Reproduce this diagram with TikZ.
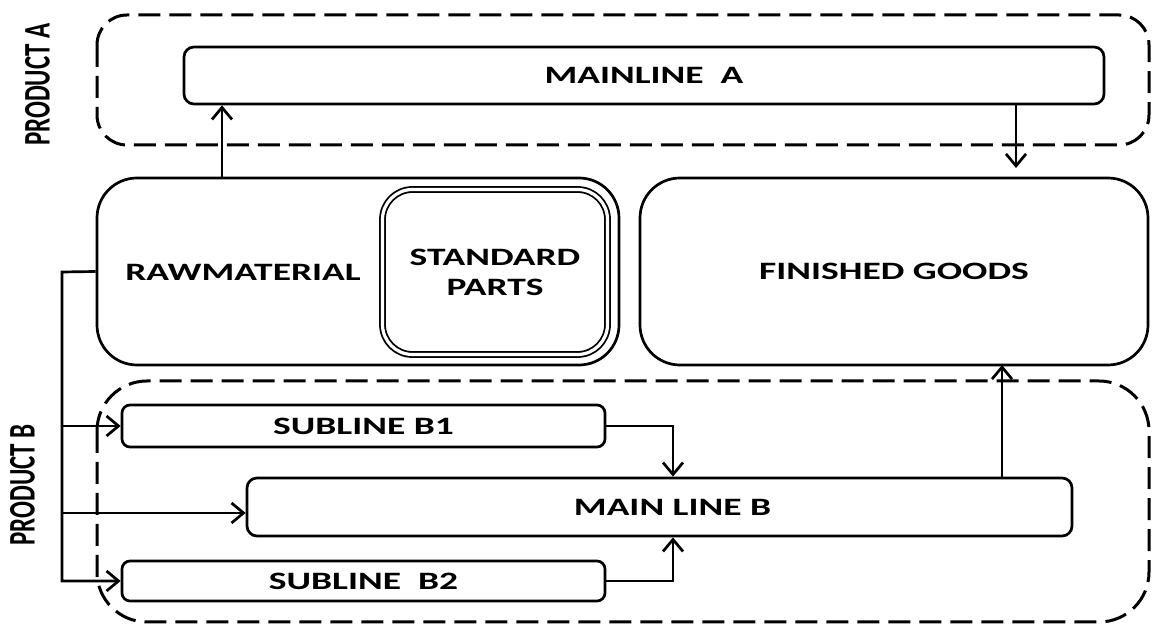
\documentclass[tikz,border=0pt]{standalone}
\usepackage{fontspec}
\setmainfont{Carlito}[FakeStretch=1.5]
\newfontfamily\sidefont{Carlito}
\usetikzlibrary{arrows.meta}

\begin{document}
\begin{tikzpicture}[x=0.5pt, y=-0.5pt, line width=1.35pt,
  >={Straight Barb[length=6pt,width=10pt]},
  every node/.style={font=\bfseries\fontsize{12.5}{15}\selectfont, inner sep=0pt},
  box/.style={draw, rounded corners=#1},
  group/.style={draw, dash pattern=on 11pt off 4.5pt, line width=1.5pt, rounded corners=#1}]
  \useasboundingbox (0,0) rectangle (1152,624);
  \draw[group=15pt] (97,15) rectangle (1149,145);
  \draw[group=25pt] (97,381) rectangle (1149,622);
  \node[rotate=90] (prodA) at (37.5,84.5) {\sidefont\bfseries\scalebox{1}[1.5]{PRODUCT A}};
  \node[rotate=90] (prodB) at (22.5,485) {\sidefont\bfseries\scalebox{1}[1.5]{PRODUCT B}};
  \node[box=5pt, minimum width=460pt, minimum height=28.5pt] (mainA) at (644,75.5) {MAINLINE\ \ A};
  \node[box=20pt, minimum width=261pt, minimum height=93.5pt] (raw) at (358,271.5) {};
  \node (rawlbl) at (243,272) {RAWMATERIAL};
  \node[box=15pt, double, double distance=1.6pt, line width=0.9pt, minimum width=112.5pt,
    minimum height=82.5pt, align=center] (std) at (495,272) {STANDARD\\PARTS};
  \node[box=20pt, minimum width=254pt, minimum height=93.5pt] (fin) at (894,271.5) {FINISHED GOODS};
  \node[box=4pt, minimum width=241.5pt, minimum height=21pt] (subB1) at (363.5,426) {SUBLINE B1};
  \node[box=5pt, minimum width=412.5pt, minimum height=29pt] (mainB) at (659.5,507) {\hspace*{13pt}MAIN LINE B};
  \node[box=4pt, minimum width=241.5pt, minimum height=20pt] (subB2) at (363.5,581) {SUBLINE\ \ B2};
  \coordinate (upA) at (222,178);
  \coordinate (dnA) at (1016,168);
  \coordinate (tk) at (62,272);
  \coordinate (jn) at (673,507);
  \coordinate (upB) at (1002,365);
  \draw[->] (upA) -- (upA |- mainA.south);
  \draw[->] (dnA |- mainA.south) -- (dnA);
  \draw[->] (raw.west) -- (tk) |- (subB2.west);
  \draw[->] (tk |- subB1.west) -- (subB1.west);
  \draw[->] (tk |- mainB.west) ++(0,6) -- ([yshift=-3pt]mainB.west);
  \draw[->] (subB1.east) -| (jn |- mainB.north);
  \draw[->] (subB2.east) -| (jn |- mainB.south);
  \draw[->] (upB |- mainB.north) -- (upB);
\end{tikzpicture}
\end{document}
